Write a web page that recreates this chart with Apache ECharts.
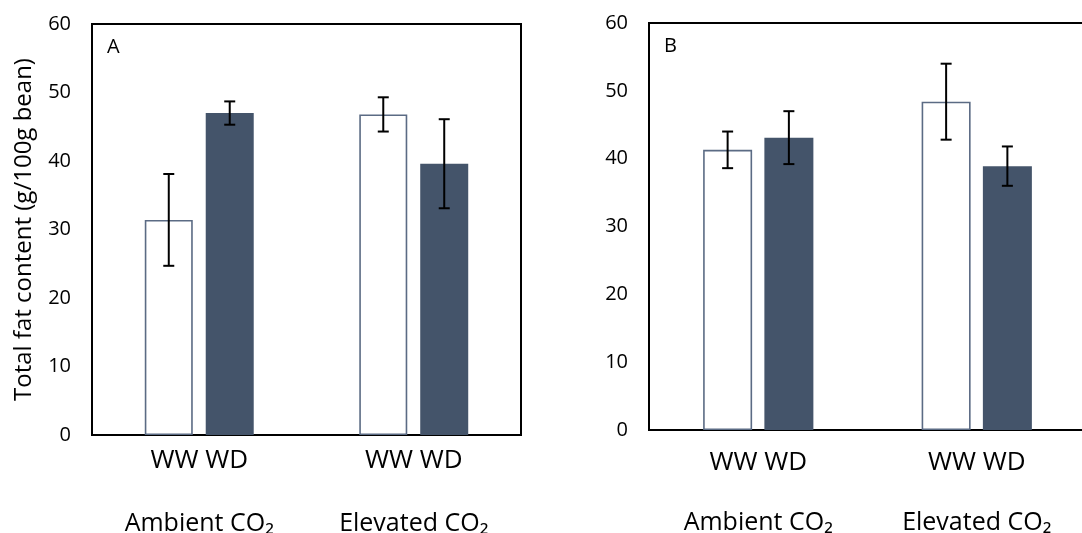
<!DOCTYPE html>
<html>
<head>
<meta charset="utf-8">
<script src="https://cdn.jsdelivr.net/npm/echarts@6/dist/echarts.min.js"></script>
<style>
  html, body { margin: 0; padding: 0; background: #fff; overflow: hidden; }
  #chart { width: 1082px; height: 533px; }
</style>
</head>
<body>
<div id="chart"></div>
<script>
// ---- data ----
const categories = ['Ambient CO\u2082', 'Elevated CO\u2082'];
const treatments = ['WW', 'WD'];
const yTicks = [0, 10, 20, 30, 40, 50, 60];
const panelLabels = ['A', 'B'];
const yAxisName = 'Total fat content (g/100g bean)';

const A_WW = [31.4, 46.8];
const A_WW_err = [6.7, 2.5];
const A_WD = [47.0, 39.6];
const A_WD_err = [1.7, 6.5];

const B_WW = [41.3, 48.4];
const B_WW_err = [2.7, 5.6];
const B_WD = [43.1, 38.9];
const B_WD_err = [3.9, 2.9];

// ---- styling ----
const FONT = "'Open Sans', 'Noto Sans', sans-serif";
const WD_COLOR = '#44546A';
const WW_BORDER = '#5b6b84';

const panels = [
  { grid: { left: 92, top: 24, width: 429, height: 411 }, barWidth: 48, gap: 0.27, wwMargin: 13, catOffset: 62, catMargin: 14, ww: A_WW, wwErr: A_WW_err, wd: A_WD, wdErr: A_WD_err, showName: true },
  { grid: { left: 649, top: 23, width: 437, height: 407 }, barWidth: 49, gap: 0.25, wwMargin: 20, catOffset: 66, catMargin: 14, ww: B_WW, wwErr: B_WW_err, wd: B_WD, wdErr: B_WD_err, showName: false }
];

const grids = [], xAxes = [], yAxes = [], series = [], titles = [];

panels.forEach((p, gi) => {
  grids.push(Object.assign({ show: true, borderColor: '#000', borderWidth: 2, backgroundColor: 'transparent', containLabel: false, outerBoundsMode: 'none' }, p.grid));

  // treatment labels axis
  xAxes.push({
    type: 'category', gridIndex: gi, data: categories,
    axisLine: { show: false }, axisTick: { show: false }, splitLine: { show: false },
    axisLabel: { margin: p.wwMargin, fontFamily: FONT, fontSize: 26, color: '#000',
      formatter: () => treatments.join(' ') }
  });
  // CO2 labels axis
  xAxes.push({
    type: 'category', gridIndex: gi, data: categories, position: 'bottom', offset: p.catOffset,
    axisLine: { show: false }, axisTick: { show: false }, splitLine: { show: false },
    axisLabel: { margin: p.catMargin, fontFamily: FONT, fontSize: 25, color: '#000' }
  });

  yAxes.push({
    type: 'value', gridIndex: gi, min: yTicks[0], max: yTicks[yTicks.length - 1], interval: 10,
    axisLine: { show: false }, axisTick: { show: false }, splitLine: { show: false },
    axisLabel: { margin: 21, fontFamily: FONT, fontSize: 20, color: '#000' },
    name: p.showName ? yAxisName : '',
    nameLocation: 'middle', nameGap: 56, nameRotate: 90,
    nameTextStyle: { fontFamily: FONT, fontSize: 24, color: '#000' }
  });

  const xIdx = gi * 2;
  series.push({
    type: 'bar', name: treatments[0], xAxisIndex: xIdx, yAxisIndex: gi,
    data: p.ww, barWidth: p.barWidth, barGap: Math.round(p.gap * 100) + '%',
    itemStyle: { color: '#fff', borderColor: WW_BORDER, borderWidth: 1.6 },
    silent: true, z: 2
  });
  series.push({
    type: 'bar', name: treatments[1], xAxisIndex: xIdx, yAxisIndex: gi,
    data: p.wd, barWidth: p.barWidth, barGap: Math.round(p.gap * 100) + '%',
    itemStyle: { color: WD_COLOR },
    silent: true, z: 2
  });

  const half = p.barWidth * (1 + p.gap) / 2;
  const errData = [];
  p.ww.forEach((v, i) => errData.push([i, v, p.wwErr[i], -1]));
  p.wd.forEach((v, i) => errData.push([i, v, p.wdErr[i], 1]));
  series.push({
    type: 'custom', xAxisIndex: xIdx, yAxisIndex: gi, z: 10, silent: true,
    data: errData,
    renderItem: (params, api) => {
      const idx = api.value(0), v = api.value(1), e = api.value(2), side = api.value(3);
      const top = api.coord([idx, v + e]);
      const bot = api.coord([idx, v - e]);
      const x = top[0] + side * half;
      const capHalf = 5.5;
      const style = { stroke: '#000', lineWidth: 2 };
      return {
        type: 'group',
        children: [
          { type: 'line', shape: { x1: x, y1: top[1], x2: x, y2: bot[1] }, style },
          { type: 'line', shape: { x1: x - capHalf, y1: top[1], x2: x + capHalf, y2: top[1] }, style },
          { type: 'line', shape: { x1: x - capHalf, y1: bot[1], x2: x + capHalf, y2: bot[1] }, style }
        ]
      };
    }
  });

  titles.push({
    text: panelLabels[gi], left: p.grid.left + 15, top: p.grid.top + 13, padding: 0,
    textStyle: { fontFamily: FONT, fontSize: 20, fontWeight: 'normal', color: '#000' }
  });
});

const chart = echarts.init(document.getElementById('chart'), null, { renderer: 'canvas' });
chart.setOption({
  animation: false,
  backgroundColor: '#fff',
  title: titles,
  grid: grids,
  xAxis: xAxes,
  yAxis: yAxes,
  series: series
});
</script>
</body>
</html>
